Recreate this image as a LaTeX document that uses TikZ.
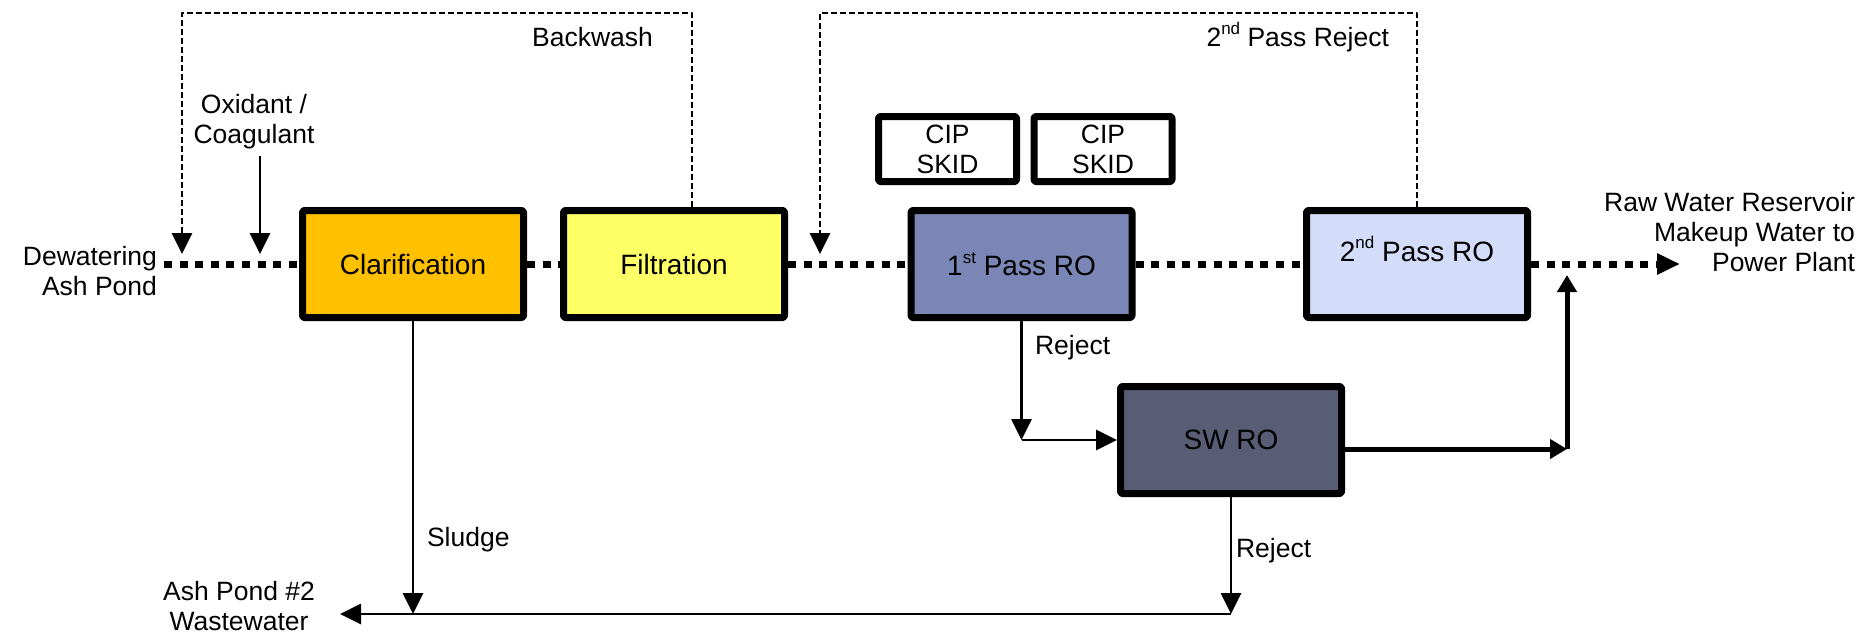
\documentclass[tikz,border=0pt]{standalone}
\usepackage{fontspec}
\setmainfont{Liberation Sans}
\usetikzlibrary{arrows.meta}
\definecolor{clarfill}{RGB}{255,192,0}
\definecolor{filtfill}{RGB}{255,255,102}
\definecolor{rofirst}{RGB}{122,134,181}
\definecolor{rosecond}{RGB}{211,220,248}
\definecolor{swfill}{RGB}{88,92,116}
\newcommand{\ordsup}[1]{\raisebox{0.45em}{\fontsize{8.5}{9}\selectfont #1}}
\begin{document}
\begin{tikzpicture}[x=0.5pt, y=-0.5pt, font=\fontsize{13.25}{15}\selectfont, line join=round,
    procbox/.style={draw, line width=3.5pt, rounded corners=1pt, minimum width=110.5pt, minimum height=53.5pt, inner sep=0pt, font=\fontsize{14}{16}\selectfont},
    cipbox/.style={draw, line width=3.5pt, rounded corners=1pt, fill=white, minimum width=69pt, minimum height=32.5pt, inner sep=0pt, align=center},
    feedline/.style={line width=3.5pt, line cap=butt, dash pattern=on 4pt off 3.8pt},
    recycle/.style={line width=1.4pt, dash pattern=on 3pt off 1.5pt, -{Triangle[length=10.5pt,width=10pt]}},
    flowarrow/.style={line width=1.4pt, -{Triangle[length=10.5pt,width=10pt]}},
    bigarrow/.style={line width=2.5pt, -{Triangle[length=8.5pt,width=9.5pt]}}]
  \useasboundingbox (0,0) rectangle (1862,637);
  % process units
  \node[procbox, fill=clarfill] (clar) at (413,264) {Clarification};
  \node[procbox, fill=filtfill] (filt) at (674,264) {Filtration};
  \node[procbox, fill=rofirst] (ro1) at (1021.5,264) {1\ordsup{st} Pass RO};
  \node[procbox, fill=rosecond, text depth=15pt] (ro2) at (1417,264) {2\ordsup{nd} Pass RO};
  \node[procbox, fill=swfill] (swro) at (1231,440) {SW RO};
  \node[cipbox] (cipA) at (947.5,149) {CIP\\SKID};
  \node[cipbox] (cipB) at (1103,149) {CIP\\SKID};
  % labels
  \node[anchor=east, align=right] (pond) at (164,271) {Dewatering\\Ash Pond};
  \node[align=center] (chem) at (254,122) {Oxidant /\\Coagulant};
  \node[anchor=east] (bwlabel) at (660,37) {Backwash};
  \node[anchor=east] (rjlabel) at (1396,37) {2\ordsup{nd} Pass Reject};
  \node[anchor=east, align=right] (plant) at (1862,232) {Raw Water Reservoir\\Makeup Water to\\Power Plant};
  \node[align=center] (ashpond) at (239,606) {Ash Pond \#2\\Wastewater};
  \node[anchor=west] (sludge) at (420,540) {Sludge};
  \node[anchor=west] (rejA) at (1028,348) {Reject};
  \node[anchor=west] (rejB) at (1229,551) {Reject};
  % free ends
  \coordinate (intake) at (164,264);
  \coordinate (bwdrop) at (182,254);
  \coordinate (bwcorner) at (182,13);
  \coordinate (chemdrop) at (260,254);
  \coordinate (rjdrop) at (820,254);
  \coordinate (rjcorner) at (820,13);
  \coordinate (product) at (1680,264);
  \coordinate (merge) at (1567,449);
  \coordinate (mergeup) at (1567,275);
  \coordinate (drain) at (340,614);
  % main feed
  \draw[feedline] (intake) -- (clar.west);
  \draw[feedline] (clar.east) -- (filt.west);
  \draw[feedline] (filt.east) -- (ro1.west);
  \draw[feedline] (ro1.east) -- (ro2.west);
  \draw[feedline, -{Triangle[length=11.5pt,width=10pt]}] (ro2.east) -- (product);
  % recycle streams
  \draw[recycle] ([xshift=9pt]filt.north) |- (bwcorner) -- (bwdrop);
  \draw[recycle] (ro2.north) |- (rjcorner) -- (rjdrop);
  \draw[flowarrow] (chem.south -| chemdrop) -- (chemdrop);
  % rejects
  \draw[flowarrow] (clar.south) -- (clar.south |- drain);
  \draw[flowarrow] (ro1.south) -- (ro1.south |- swro.west);
  \draw[flowarrow] (ro1.south |- swro.west) -- (swro.west);
  \draw[flowarrow] (swro.south) -- (swro.south |- drain);
  \draw[flowarrow] (swro.south |- drain) -- (drain);
  \draw[bigarrow] ([yshift=-4.5pt]swro.east) -- (merge);
  \draw[bigarrow] (merge) -- (mergeup);
\end{tikzpicture}
\end{document}
